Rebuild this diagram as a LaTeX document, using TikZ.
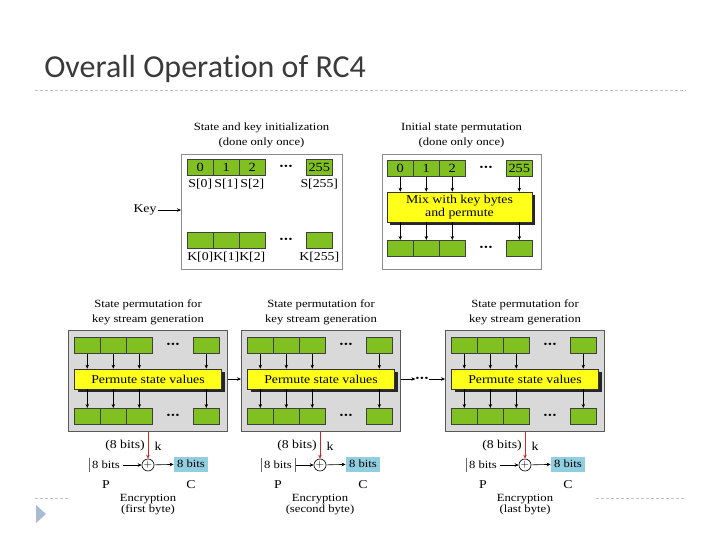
\documentclass[tikz,border=0pt]{standalone}
\usepackage{fontspec}
\setmainfont[FakeStretch=1.15]{Liberation Serif}
\newfontfamily\titlefont[Ligatures=NoCommon]{Carlito}
\usetikzlibrary{arrows.meta, positioning, calc, shadows}
\definecolor{cellg}{HTML}{80C020}
\definecolor{mixy}{HTML}{FFFF1A}
\definecolor{panelg}{HTML}{D9D9D9}
\definecolor{ctblue}{HTML}{90CEE0}
\definecolor{keyred}{HTML}{D02828}
\definecolor{titlec}{HTML}{3A3A3A}
\definecolor{rulec}{HTML}{BFBFBF}
\definecolor{bulletc}{HTML}{A9BBD0}
\tikzset{
  cell/.style={draw=black!75, fill=cellg, minimum width=26pt, minimum height=16pt,
        inner sep=0pt, anchor=north west, font=\fontsize{12.5}{12}\selectfont},
  celldots/.style={inner sep=0pt, font=\fontsize{9.5}{9}\selectfont},
  mixbox/.style={draw=black!80, fill=mixy, inner sep=0pt, align=center,
        font=\fontsize{12}{13.5}\selectfont,
        drop shadow={shadow xshift=3pt, shadow yshift=-3pt, fill=black!85, opacity=1}},
  initbox/.style={draw=black!45, fill=white, anchor=north west, inner sep=0pt},
  ksbox/.style={draw=black!65, fill=panelg, anchor=north west, inner sep=0pt,
        minimum width=159pt, minimum height=101pt},
  captext/.style={align=center, inner sep=0pt, anchor=south, font=\fontsize{11}{14.5}\selectfont},
  lbl/.style={inner sep=1pt, font=\fontsize{12}{12}\selectfont},
  xorc/.style={circle, draw, inner sep=0pt, minimum size=12pt, font=\fontsize{11}{11}\selectfont},
  ptbox/.style={inner xsep=3pt, inner ysep=0pt, minimum height=14pt, font=\fontsize{11}{11}\selectfont},
  ctbox/.style={fill=ctblue, inner sep=0pt, minimum width=34pt, minimum height=15pt,
        font=\fontsize{11}{11}\selectfont},
  barline/.style={black!60, line width=0.6pt}
}
\newcommand{\tridots}{\textbullet\hspace{0.6pt}\textbullet\hspace{0.6pt}\textbullet}
\newcommand{\cellrow}[7]{%
  \foreach \j/\celltxt in {0/#4,1/#5,2/#6}
    \node[cell] (#1\j) at ({#2+26*\j},#3) {\celltxt};
  \node[cell] (#1x) at ({#2+119},#3) {#7};
  \node[celldots] (#1d) at ({#2+99},{#3+8}) {\tridots};
}
\newcommand{\kspanel}[3]{%
  \node[ksbox] (#1) at (#2,#3) {};
  \cellrow{#1a}{#2+6}{#3+7}{}{}{}{}
  \node[mixbox, minimum width=147pt, minimum height=20pt]
        (#1m) at ({#2+80},{#3+49}) {Permute state values};
  \cellrow{#1b}{#2+6}{#3+78}{}{}{}{}
  \foreach \j in {0,1,2,x} {
    \draw[->] (#1a\j) -- (#1a\j |- #1m.north);
    \draw[->] (#1a\j |- #1m.south) -- (#1b\j);
  }
  \node[captext] (#1t) at ({#2+80},{#3-5}) {State permutation for\\key stream generation};
}
\newcommand{\encunit}[4]{%
  \node[xorc] (#1x) at (#2,465) {$+$};
  \draw[->, keyred, line width=0.8pt] (#4.south -| #1x) -- (#1x);
  \node[lbl] (#1n) at ({#2-23},446) {(8 bits)};
  \node[lbl] (#1k) at ({#2+10},446) {k};
  \node[ptbox] (#1p) at ({#2-42},465) {8 bits};
  \draw[barline] (#1p.north west) -- (#1p.south west);
  \draw[->] (#1p) -- (#1x);
  \node[ctbox] (#1c) at ({#2+43},464) {8 bits};
  \draw[->] (#1x) -- (#1c);
  \node[lbl] (#1pl) at ({#2-42},485) {P};
  \node[lbl] (#1cl) at ({#2+43},485) {C};
  \node[lbl, align=center, font=\fontsize{11}{11}\selectfont] (#1e) at (#2,505) {Encryption\\#3};
}

\begin{document}
\begin{tikzpicture}[x=1pt, y=-1pt, >={Stealth[length=4pt, width=3.5pt]}, line width=0.6pt]
  \useasboundingbox (0,0) rectangle (720,540);
  % slide title and rules
  \node[anchor=base west, inner sep=0pt, text=titlec,
        font=\titlefont\fontsize{32}{34}\selectfont] (slidetitle) at (44,78) {Overall Operation of RC4};
  \draw[rulec, dash pattern=on 3pt off 2pt] (35,90) -- (686,90);
  \draw[rulec, dash pattern=on 3pt off 2pt] (35,498) -- (70,498);
  \draw[rulec, dash pattern=on 3pt off 2pt] (596,498) -- (686,498);
  \fill[bulletc] (36,505) -- (46,514) -- (36,523) -- cycle;

  % state and key initialization
  \node[initbox, minimum width=161pt, minimum height=115pt] (init) at (181,154) {};
  \cellrow{s}{187}{159}{0}{1}{2}{255}
  \foreach \j in {0,1,2} \node[lbl, below=2.5pt] (sl\j) at (s\j.south) {S[\j]};
  \node[lbl, below=2.5pt] (slx) at (sx.south) {S[255]};
  \cellrow{k}{187}{232}{}{}{}{}
  \foreach \j in {0,1,2} \node[lbl, below=2.5pt] (kl\j) at (k\j.south) {K[\j]};
  \node[lbl, below=2.5pt] (klx) at (kx.south) {K[255]};
  \node[lbl] (key) at (145,210) {Key};
  \draw[->] (key) -- (key -| init.west);
  \node[captext] (inittitle) at (261.5,148) {State and key initialization\\(done only once)};

  % initial state permutation
  \node[initbox, minimum width=159pt, minimum height=115pt] (perm) at (382,154) {};
  \cellrow{p}{387}{160}{0}{1}{2}{255}
  \node[mixbox, minimum width=145pt, minimum height=30pt] (mix) at (459.5,207) {Mix with key bytes\\and permute};
  \cellrow{q}{387}{240}{}{}{}{}
  \foreach \j in {0,1,2,x} {
    \draw[->] (p\j) -- (p\j |- mix.north);
    \draw[->] (p\j |- mix.south) -- (q\j);
  }
  \node[captext] (permtitle) at (461.5,148) {Initial state permutation\\(done only once)};

  % key stream generation
  \kspanel{ksa}{68}{330}
  \kspanel{ksb}{241}{330}
  \kspanel{ksc}{445}{330}
  \draw[->] (ksa.east |- ksam) -- (ksb.west |- ksam);
  \node[celldots] (gap) at (422,379) {\tridots};
  \draw[->] (ksb.east |- gap) -- (gap.west);
  \draw[->] (gap.east) -- (ksc.west |- gap);

  % encryption
  \encunit{ea}{148}{(first byte)}{ksa}
  \encunit{eb}{320}{(second byte)}{ksb}
  \draw[barline] (ebp.north east) -- (ebp.south east);
  \encunit{ec}{525}{(last byte)}{ksc}
\end{tikzpicture}
\end{document}
